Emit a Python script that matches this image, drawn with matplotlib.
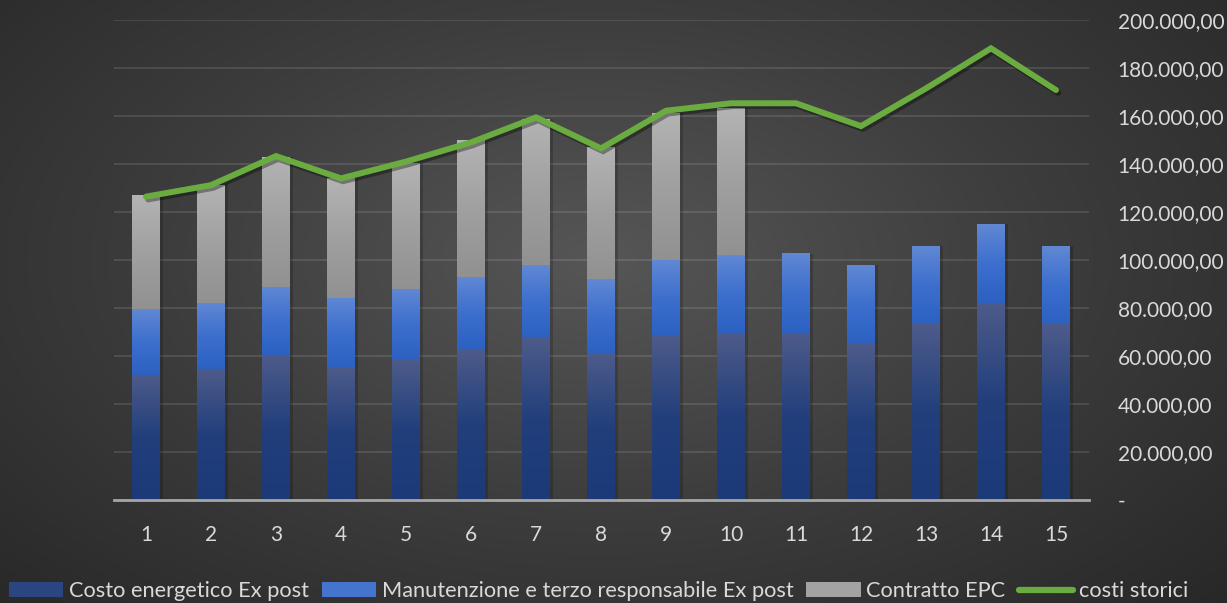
import numpy as np
import matplotlib.pyplot as plt
import matplotlib.patheffects as pe
from matplotlib.colors import LinearSegmentedColormap
from matplotlib.patches import Patch
from matplotlib.lines import Line2D
from matplotlib.ticker import FuncFormatter

plt.rcParams['font.family'] = ['Lato', 'DejaVu Sans']

# data (values in euro)
anni = [str(i) for i in range(1, 16)]
costo_energetico = [52100, 54400, 60300, 55400, 58300, 62900, 67600, 61000, 68500, 69400,
                    69400, 65000, 73300, 82100, 73300]
manutenzione = [27500, 27700, 28400, 28800, 29600, 30000, 30300, 31100, 31600, 32700,
                33100, 32900, 32500, 32900, 32500]
contratto_epc = [47100, 49100, 54100, 49800, 52400, 56700, 60800, 54700, 61000, 61100,
                 0, 0, 0, 0, 0]
costi_storici = [126400, 131200, 143300, 134000, 141000, 149000, 159400, 146500, 162200, 165300,
                 165300, 155800, 171500, 188200, 170800]

nomi = ['Costo energetico Ex post', 'Manutenzione e terzo responsabile Ex post',
        'Contratto EPC', 'costi storici']

txt_col = '#d9d9d9'
fs = 15

fig = plt.figure(figsize=(12.27, 6.03), dpi=100)

# radial background
bg = fig.add_axes([0, 0, 1, 1], zorder=-10)
yy, xx = np.mgrid[0:603, 0:1227]
r = np.sqrt(((xx - 600) / 900.0) ** 2 + ((yy - 260) / 520.0) ** 2)
r = np.clip(r, 0, 1)
bgcmap = LinearSegmentedColormap.from_list('bg', ['#565656', '#3c3c3c', '#262626'])
bg.imshow(r, cmap=bgcmap, aspect='auto', vmin=0, vmax=1)
bg.axis('off')

ax = fig.add_axes([113.5 / 1227, 103 / 603, 975 / 1227, 480 / 603])
ax.set_facecolor('none')

x = np.arange(len(anni))
w = 0.42

b1 = ax.bar(x, costo_energetico, w, color='none')
bottom2 = np.array(costo_energetico)
b2 = ax.bar(x, manutenzione, w, bottom=bottom2, color='none')
bottom3 = bottom2 + np.array(manutenzione)
b3 = ax.bar(x, contratto_epc, w, bottom=bottom3, color='none')

cmaps = [
    LinearSegmentedColormap.from_list('c1', ['#1b3a77', '#223f7c', '#4d5b8a']),
    LinearSegmentedColormap.from_list('c2', ['#2c61c2', '#3d6fcd', '#6088d4']),
    LinearSegmentedColormap.from_list('c3', ['#919191', '#a0a0a0', '#b3b3b3']),
]
grad = np.linspace(0, 1, 100).reshape(-1, 1)
for cont, cm in zip([b1, b2, b3], cmaps):
    for p in cont.patches:
        if p.get_height() <= 0:
            continue
        x0, y0 = p.get_x(), p.get_y()
        x1, y1 = x0 + p.get_width(), y0 + p.get_height()
        # shadow
        ax.add_patch(plt.Rectangle((x1, y0), 0.05, p.get_height(), color='black',
                                   alpha=0.18, lw=0, zorder=2))
        ax.imshow(grad, cmap=cm, extent=[x0, x1, y0, y1], origin='lower',
                  aspect='auto', zorder=3)

ax.plot(x, costi_storici, color='#6aac40', lw=4.3, solid_capstyle='round',
        solid_joinstyle='miter', zorder=5,
        path_effects=[pe.SimpleLineShadow(offset=(1.5, -2), alpha=0.35), pe.Normal()])

ax.set_xlim(-0.5, len(anni) - 0.5)
ax.set_ylim(0, 200000)
ax.set_yticks(np.arange(0, 200001, 20000))
ax.grid(axis='y', color='#ffffff', alpha=0.13, lw=1.2, zorder=0)
ax.set_axisbelow(True)

def fmt(v, pos):
    if v == 0:
        return '-'
    s = '{:,.2f}'.format(v)
    return s.replace(',', 'X').replace('.', ',').replace('X', '.')

ax.yaxis.tick_right()
ax.yaxis.set_major_formatter(FuncFormatter(fmt))
ax.set_xticks(x)
ax.set_xticklabels(anni)
ax.tick_params(axis='y', length=0, pad=21, labelsize=fs, labelcolor=txt_col)
ax.tick_params(axis='x', length=0, pad=18, labelsize=fs, labelcolor=txt_col)

for s in ['top', 'left', 'right']:
    ax.spines[s].set_visible(False)
ax.spines['bottom'].set_color('#a6a6a6')
ax.spines['bottom'].set_linewidth(2)
ax.spines['bottom'].set_zorder(6)

handles = [Patch(facecolor='#2a4580'), Patch(facecolor='#4574cf'), Patch(facecolor='#a3a3a3'),
           Line2D([0], [0], color='#6aac40', lw=4.5, solid_capstyle='round')]
fig.legend(handles, nomi, loc='center', bbox_to_anchor=(0.4875, 1 - 591 / 603), ncol=4,
           frameon=False, fontsize=15.7, labelcolor=txt_col, handlelength=2.5,
           handleheight=0.65, handletextpad=0.25, columnspacing=0.6, borderpad=0)

fig.savefig('out.png', dpi=100)
